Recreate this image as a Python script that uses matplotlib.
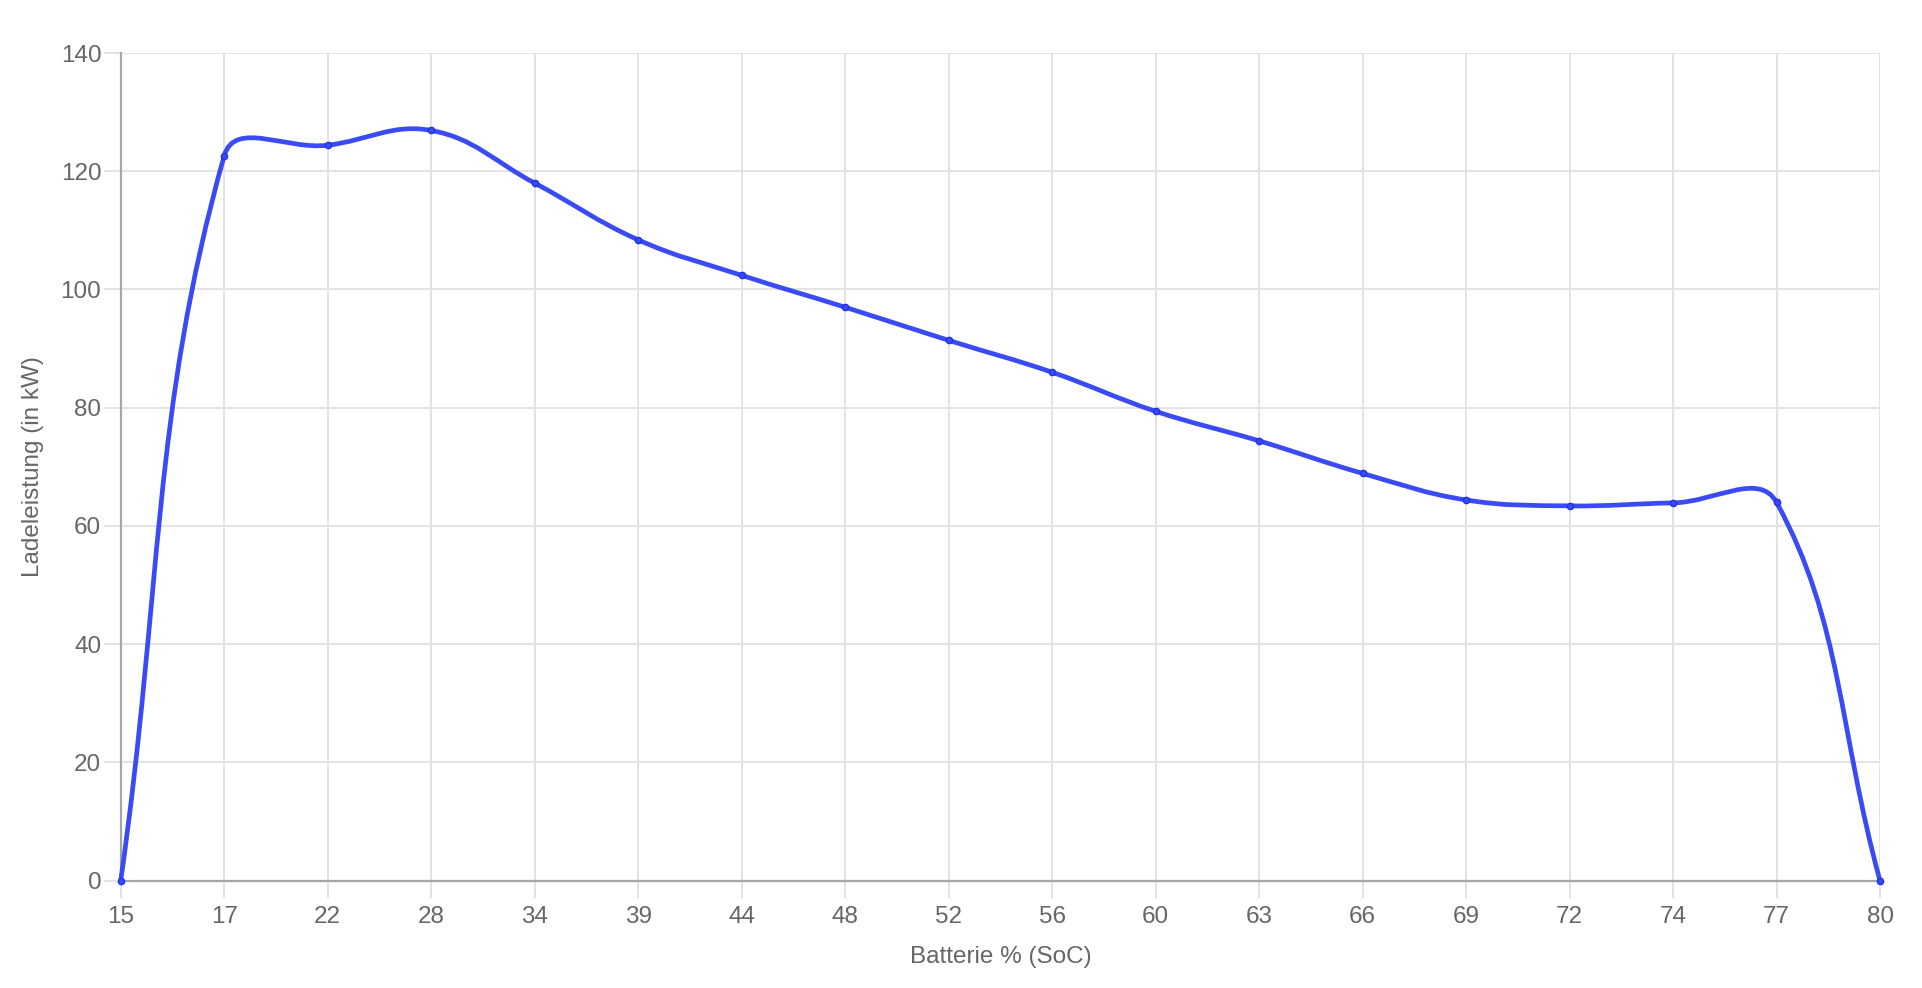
import numpy as np
import matplotlib
matplotlib.use("Agg")
import matplotlib.pyplot as plt
from matplotlib.path import Path
from matplotlib.patches import PathPatch

soc_labels = ["15", "17", "22", "28", "34", "39", "44", "48", "52",
              "56", "60", "63", "66", "69", "72", "74", "77", "80"]
power_kw = [0, 122.6, 124.4, 126.9, 118.0, 108.4, 102.4, 97.0, 91.4,
            86.0, 79.4, 74.4, 68.9, 64.4, 63.4, 63.9, 64.0, 0]

W, H = 1922, 988
L, R, T, B = 120.7, 1880, 53, 880.7
ymax = 140
tension = 0.4

plt.rcParams['font.family'] = ['Liberation Sans', 'DejaVu Sans']
fig = plt.figure(figsize=(W / 100, H / 100), dpi=100)
ax = fig.add_axes([L / W, 1 - B / H, (R - L) / W, (B - T) / H])

n = len(soc_labels)
xs = np.arange(n, dtype=float)
ys = np.array(power_kw, dtype=float)

# chart.js style bezier, distances measured in pixels
sx = (R - L) / (n - 1)
sy = (B - T) / ymax
px, py = xs * sx, ys * sy
cp_prev, cp_next = [], []
for i in range(n):
    a = i - 1 if i > 0 else i
    c = i + 1 if i < n - 1 else i
    d01 = np.hypot(px[i] - px[a], py[i] - py[a])
    d12 = np.hypot(px[c] - px[i], py[c] - py[i])
    tot = d01 + d12
    s01 = d01 / tot if tot else 0
    s12 = d12 / tot if tot else 0
    fa, fb = tension * s01, tension * s12
    dx, dy = xs[c] - xs[a], ys[c] - ys[a]
    pvx = np.clip(xs[i] - fa * dx, 0, n - 1)
    pvy = np.clip(ys[i] - fa * dy, 0, ymax)
    nxx = np.clip(xs[i] + fb * dx, 0, n - 1)
    nxy = np.clip(ys[i] + fb * dy, 0, ymax)
    cp_prev.append((pvx, pvy))
    cp_next.append((nxx, nxy))

verts = [(xs[0], ys[0])]
codes = [Path.MOVETO]
for i in range(1, n):
    verts += [cp_next[i - 1], cp_prev[i], (xs[i], ys[i])]
    codes += [Path.CURVE4] * 3
line_color = '#3a4bf5'
ax.add_patch(PathPatch(Path(verts, codes), fill=False, edgecolor=line_color,
                       lw=3.4, zorder=3, clip_on=False, capstyle='round'))
ax.plot(xs, ys, 'o', ms=4.5, mfc=line_color, mec='#1f33e6', mew=1.0,
        zorder=4, clip_on=False)

ax.set_xlim(0, n - 1)
ax.set_ylim(0, ymax)
ax.set_xticks(xs)
ax.set_xticklabels(soc_labels)
ax.set_yticks(np.arange(0, ymax + 1, 20))

grid_c = '#e3e3e3'
ax.grid(True, color=grid_c, lw=1.4, zorder=0)
ax.set_axisbelow(True)
for s in ['top', 'right']:
    ax.spines[s].set_visible(False)
for s in ['left', 'bottom']:
    ax.spines[s].set_color('#a6a6a6')
    ax.spines[s].set_linewidth(1.6)
ax.tick_params(axis='both', length=12, width=1.4, color=grid_c,
               labelsize=17.5, labelcolor='#666666')
ax.tick_params(axis='x', pad=6)
ax.tick_params(axis='y', pad=2)

ax.set_xlabel('Batterie % (SoC)', fontsize=17.5, color='#666666', labelpad=13)
ax.set_ylabel('Ladeleistung (in kW)', fontsize=17.5, color='#666666', labelpad=12)

fig.savefig('out.png', dpi=100)
